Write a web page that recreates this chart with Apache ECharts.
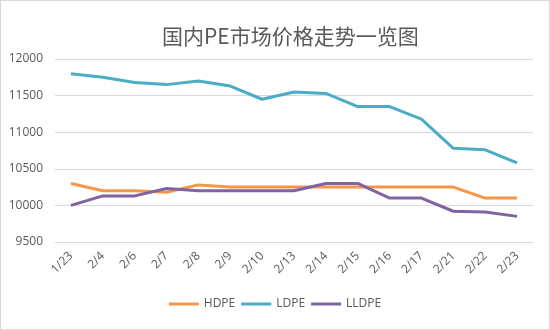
<!DOCTYPE html>
<html><head><meta charset="utf-8">
<script src="https://cdn.jsdelivr.net/npm/echarts@6/dist/echarts.min.js"></script>
<style>html,body{margin:0;padding:0;background:#fff}#c{width:550px;height:330px;box-sizing:border-box;border:1px solid #d9d9d9}</style>
</head><body><div id="c"></div>
<script>
const categories = ['1/23','2/4','2/6','2/7','2/8','2/9','2/10','2/13','2/14','2/15','2/16','2/17','2/21','2/22','2/23'];
const hdpe  = [10300,10200,10200,10180,10280,10250,10250,10250,10250,10250,10250,10250,10250,10100,10100];
const ldpe  = [11800,11750,11680,11650,11700,11630,11450,11550,11530,11350,11350,11180,10780,10760,10580];
const lldpe = [10000,10130,10130,10230,10200,10200,10200,10200,10300,10300,10100,10100,9920,9910,9850];
const titleText = '国内PE市场价格走势一览图';
const txt = '#595959';
const chart = echarts.init(document.getElementById('c'));
function s(name, data, color){
  return {name, type:'line', data, symbol:'none', lineStyle:{width:3,color}, itemStyle:{color}};
}
chart.setOption({
  animation:false,
  title:{text:titleText,left:156,top:20,textStyle:{fontSize:21,fontWeight:'normal',color:txt,fontFamily:'Noto Sans CJK SC'}},
  grid:{left:54,right:16,top:58,bottom:87},
  legend:{bottom:14,left:'center',icon:'rect',itemWidth:30,itemHeight:3,itemGap:6,textStyle:{color:txt,fontSize:12,fontFamily:'Open Sans'}},
  xAxis:{type:'category',data:categories,boundaryGap:true,axisLine:{show:false},axisTick:{show:false},
    axisLabel:{rotate:45,color:txt,fontSize:12,fontFamily:'Open Sans',margin:12,interval:0}},
  yAxis:{type:'value',min:9500,max:12000,interval:500,axisLine:{show:false},axisTick:{show:false},
    splitLine:{lineStyle:{color:'#d9d9d9',width:1}},axisLabel:{color:txt,fontSize:12,fontFamily:'Open Sans',margin:12,formatter:v=>String(v)}},
  series:[s('HDPE',hdpe,'#F79646'),s('LDPE',ldpe,'#4BACC6'),s('LLDPE',lldpe,'#8064A2')]
});
</script></body></html>
